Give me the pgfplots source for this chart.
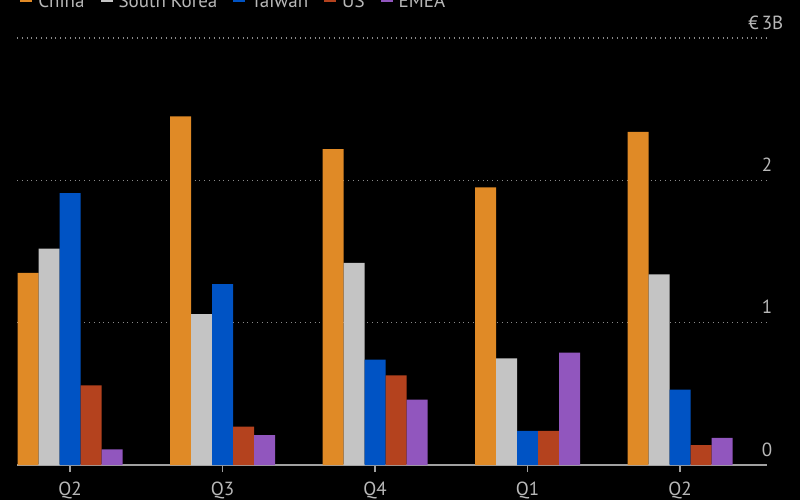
\documentclass[border=0pt]{standalone}
\usepackage{pgfplots}
\pgfplotsset{compat=1.18}
\usepackage{fontspec}
\setmainfont{PT Sans}
\definecolor{cChina}{HTML}{E08A26}
\definecolor{cKorea}{HTML}{C4C4C4}
\definecolor{cTaiwan}{HTML}{0053C4}
\definecolor{cUS}{HTML}{B4421E}
\definecolor{cEMEA}{HTML}{9156BE}
\definecolor{txtgray}{HTML}{B8B8B8}
\definecolor{gridgray}{HTML}{8A8A8A}
\definecolor{axisgray}{HTML}{A0A0A0}
\begin{document}
\begin{tikzpicture}[font=\fontsize{9.5pt}{11pt}\selectfont]
\fill[black] (0,0) rectangle (400pt,250pt);
\begin{axis}[
  at={(8.5pt,17.5pt)}, anchor=south west,
  scale only axis, width=375pt, height=213.5pt,
  xmin=-0.348, xmax=4.57, ymin=0, ymax=3,
  ybar=0pt, bar width=10.5pt,
  axis x line*=bottom, axis y line*=right,
  x axis line style={-, color=axisgray, line width=0.7pt},
  y axis line style={draw=none},
  xtick={0,1,2,3,4}, xticklabels={Q2,Q3,Q4,Q1,Q2},
  xtick style={color=axisgray, line width=0.6pt},
  major tick length=3.5pt, tick align=outside,
  xticklabel style={anchor=base, yshift=-11.8pt, text=txtgray},
  ytick={0,1,2,3}, yticklabels={0,1,2,{\llap{€\,}3\rlap{B}}},
  ytick style={draw=none},
  yticklabel style={anchor=base, xshift=-3.5pt, yshift=4.5pt, text=txtgray},
  ymajorgrids, grid style={dotted, color=gridgray, line width=0.6pt},
  legend columns=-1,
  legend style={draw=none, fill=none, text=txtgray, at={(0.004,1.088)}, anchor=west,
    inner sep=0pt, nodes={inner sep=0pt},
    /tikz/every odd column/.append style={column sep=3pt},
    /tikz/every even column/.append style={column sep=8pt}},
  legend image code/.code={\fill[#1] (0pt,0pt) rectangle (6pt,6pt);},
]
\addplot[fill=cChina, draw=none] coordinates {(0,1.35) (1,2.45) (2,2.22) (3,1.95) (4,2.34)};
\addplot[fill=cKorea, draw=none] coordinates {(0,1.52) (1,1.06) (2,1.42) (3,0.75) (4,1.34)};
\addplot[fill=cTaiwan, draw=none] coordinates {(0,1.91) (1,1.27) (2,0.74) (3,0.24) (4,0.53)};
\addplot[fill=cUS, draw=none] coordinates {(0,0.56) (1,0.27) (2,0.63) (3,0.24) (4,0.14)};
\addplot[fill=cEMEA, draw=none] coordinates {(0,0.11) (1,0.21) (2,0.46) (3,0.79) (4,0.19)};
\legend{China, South Korea, Taiwan, US, EMEA}
\end{axis}
\pgfresetboundingbox
\path[use as bounding box] (0,0) rectangle (400pt,250pt);
\end{tikzpicture}
\end{document}
